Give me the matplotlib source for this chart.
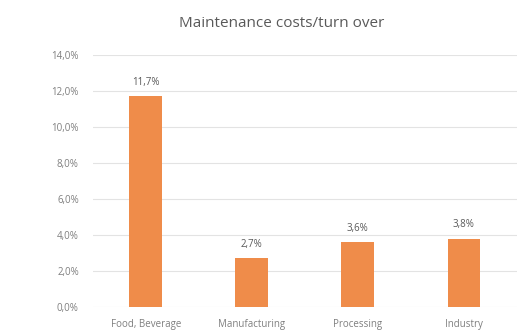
import matplotlib.pyplot as plt

# Maintenance costs as a share of turnover, per sector
sectors = ["Food, Beverage", "Manufacturing", "Processing", "Industry"]
share = [11.7, 2.7, 3.6, 3.8]
yticks = [0, 2, 4, 6, 8, 10, 12, 14]

plt.rcParams['font.family'] = ['Open Sans', 'DejaVu Sans']

fig = plt.figure(figsize=(5.27, 3.34), dpi=100)
ax = fig.add_axes([0.176, 0.081, 0.805, 0.754])

x = range(len(sectors))
bars = ax.bar(x, share, width=0.31, color="#EF8C4A", zorder=2)

# value labels on top, comma as decimal separator
for b, v in zip(bars, share):
    ax.annotate(f"{v:.1f}%".replace(".", ","), (b.get_x() + b.get_width() / 2, v),
                xytext=(0, 6), textcoords="offset points",
                ha="center", va="bottom", fontsize=7, color="#595959")

ax.set_ylim(0, 14)
ax.set_xlim(-0.5, len(sectors) - 0.5)
ax.set_yticks(yticks)
ax.set_yticklabels([f"{t:.1f}%".replace(".", ",") for t in yticks])
ax.set_xticks(list(x))
ax.set_xticklabels(sectors)
ax.yaxis.grid(True, color="#E3E3E3", linewidth=0.8, zorder=0)
ax.tick_params(length=0, labelsize=7, colors="#7F7F7F")
ax.tick_params(axis="y", pad=10)
ax.tick_params(axis="x", pad=9)
for s in ax.spines.values():
    s.set_visible(False)

fig.text(0.535, 0.93, "Maintenance costs/turn over", ha="center", va="center",
         fontsize=11, color="#595959")

fig.savefig("out.png", dpi=100)
